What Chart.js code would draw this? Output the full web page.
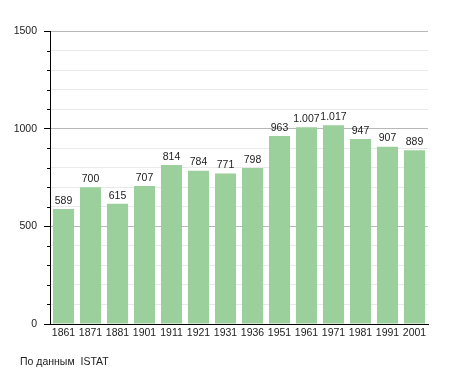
<!DOCTYPE html>
<html>
<head>
<meta charset="utf-8">
<script src="https://cdn.jsdelivr.net/npm/chart.js@4/dist/chart.umd.min.js"></script>
<style>
    body { margin: 0; background: #fff; }
    #wrap { position: relative; width: 455px; height: 373px; }
    #source {
        position: absolute; left: 20px; top: 355px;
        font: 10.5px "Liberation Sans", Arial, sans-serif; color: #222;
        white-space: pre;
    }
</style>
</head>
<body>
<div id="wrap">
    <canvas id="chart" width="455" height="373"></canvas>
    <div id="source">По данным  ISTAT</div>
</div>
<script>
// Population by census year
const years = ['1861', '1871', '1881', '1901', '1911', '1921', '1931', '1936', '1951', '1961', '1971', '1981', '1991', '2001'];
const population = [589, 700, 615, 707, 814, 784, 771, 798, 963, 1007, 1017, 947, 907, 889];
const yMax = 1500;
const majorStep = 500;
const minorStep = 100;

const FONT = { family: '"Liberation Sans", Arial, sans-serif', size: 10.5 };

function formatThousands(v) {
    return String(v).replace(/\B(?=(\d{3})+(?!\d))/g, '.');
}

// value labels above bars
const barLabels = {
    id: 'barLabels',
    afterDatasetsDraw(chart) {
        const ctx = chart.ctx;
        const meta = chart.getDatasetMeta(0);
        ctx.save();
        ctx.font = FONT.size + 'px ' + FONT.family;
        ctx.fillStyle = '#222';
        ctx.textAlign = 'center';
        ctx.textBaseline = 'bottom';
        meta.data.forEach((bar, i) => {
            ctx.fillText(formatThousands(population[i]), bar.x, bar.y - 3);
        });
        ctx.restore();
    }
};

// short tick marks for the minor steps
const minorTicks = {
    id: 'minorTicks',
    afterDraw(chart) {
        const scale = chart.scales.y;
        const ctx = chart.ctx;
        ctx.save();
        ctx.strokeStyle = '#000';
        ctx.lineWidth = 1;
        scale.ticks.forEach(t => {
            if (t.value % majorStep === 0) return;
            const y = Math.round(scale.getPixelForValue(t.value)) + 0.5;
            ctx.beginPath();
            ctx.moveTo(scale.right - 3, y);
            ctx.lineTo(scale.right, y);
            ctx.stroke();
        });
        ctx.restore();
    }
};

new Chart(document.getElementById('chart'), {
    type: 'bar',
    data: {
        labels: years,
        datasets: [{
            data: population,
            backgroundColor: 'rgb(155, 207, 155)',
            borderWidth: 0,
            barPercentage: 0.78,
            categoryPercentage: 1
        }]
    },
    options: {
        responsive: false,
        animation: false,
        layout: { padding: { left: 0, right: 27, top: 31, bottom: 0 } },
        plugins: {
            legend: { display: false },
            tooltip: { enabled: false }
        },
        scales: {
            x: {
                afterFit(scale) { scale.height = 49; },
                grid: { display: false, drawTicks: false },
                border: { color: '#000', width: 1 },
                ticks: {
                    color: '#222',
                    font: FONT,
                    padding: 3,
                    maxRotation: 0,
                    autoSkip: false
                }
            },
            y: {
                min: 0,
                max: yMax,
                afterFit(scale) { scale.width = 50; },
                border: { color: '#000', width: 1 },
                grid: {
                    color: ctx => ctx.tick.value % majorStep === 0 ? '#b8b8b8' : '#e9e9e9',
                    tickColor: ctx => ctx.tick.value % majorStep === 0 ? '#000' : 'rgba(0,0,0,0)',
                    tickLength: 6
                },
                ticks: {
                    stepSize: minorStep,
                    autoSkip: false,
                    color: '#222',
                    font: FONT,
                    padding: 7,
                    callback: v => v % majorStep === 0 ? v : ''
                }
            }
        }
    },
    plugins: [barLabels, minorTicks]
});
</script>
</body>
</html>
